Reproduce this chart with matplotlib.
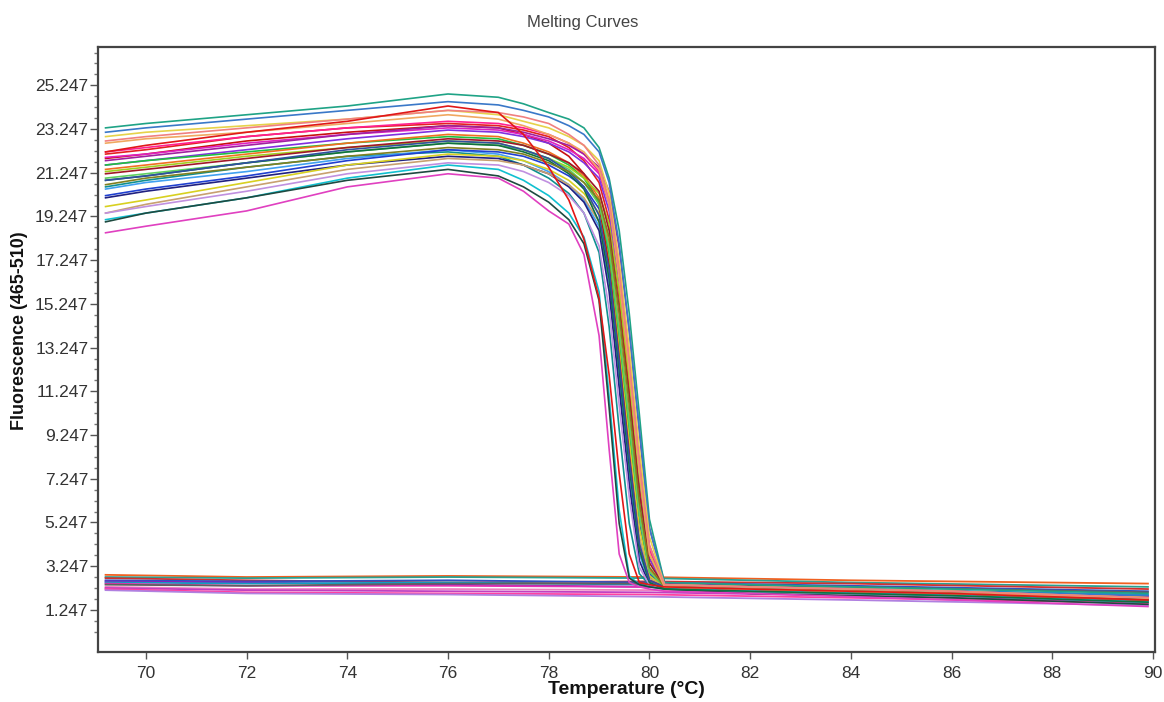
import matplotlib
matplotlib.use("Agg")
import matplotlib.pyplot as plt
from matplotlib.ticker import FixedLocator

plt.rcParams['font.family'] = ['Liberation Sans', 'DejaVu Sans']

# ---------------- data ----------------
title = "Melting Curves"
x_label = "Temperature (°C)"
y_label = "Fluorescence (465-510)"

x_ticks = [70, 72, 74, 76, 78, 80, 82, 84, 86, 88, 90]
y_ticks = [1.247, 3.247, 5.247, 7.247, 9.247, 11.247, 13.247, 15.247,
           17.247, 19.247, 21.247, 23.247, 25.247]
y_tick_labels = ["1.247", "3.247", "5.247", "7.247", "9.247", "11.247", "13.247",
                 "15.247", "17.247", "19.247", "21.247", "23.247", "25.247"]

# temperatures at which the melting (positive) curves were read
high_temps = [69.2, 70, 72, 74, 76, 77, 77.5, 78, 78.4, 78.7,
              79.0, 79.2, 79.4, 79.6, 79.8, 80.0, 80.3, 82, 86, 89.9]

# melting curves, upper group (high plateau, late melt)
high_upper = [
    [23.3, 23.5, 23.9, 24.3, 24.85, 24.7, 24.4, 24.0, 23.7, 23.3, 22.4, 21.0, 18.6, 14.8, 10.2, 5.4, 2.5, 2.4, 2.2, 2.0],
    [23.1, 23.3, 23.7, 24.1, 24.5, 24.35, 24.1, 23.8, 23.4, 23.0, 22.2, 20.8, 18.0, 14.0, 9.5, 5.0, 2.4, 2.3, 2.1, 1.9],
    [22.9, 23.1, 23.4, 23.7, 24.1, 23.9, 23.6, 23.3, 22.9, 22.5, 21.8, 20.3, 17.2, 13.2, 8.6, 4.6, 2.4, 2.3, 2.1, 1.8],
    [22.6, 22.8, 23.1, 23.5, 23.9, 23.7, 23.4, 23.0, 22.6, 22.2, 21.4, 19.8, 16.4, 12.2, 7.6, 3.8, 2.3, 2.2, 2.0, 1.8],
    [22.7, 22.9, 23.3, 23.7, 24.1, 24.0, 23.8, 23.5, 23.0, 22.5, 21.6, 20.0, 16.8, 12.6, 8.0, 4.2, 2.4, 2.3, 2.1, 1.8],
    [22.2, 22.5, 23.1, 23.6, 24.3, 24.0, 23.0, 21.5, 20.0, 18.2, 15.5, 12.0, 7.5, 3.8, 2.5, 2.4, 2.3, 2.2, 2.0, 1.7],
]
high_upper_colors = ["#1fa386", "#3a78c8", "#e6d24a", "#f0a860", "#f08080", "#e01818"]

# melting curves, middle group
high_middle = [
    [22.1, 22.3, 22.9, 23.3, 23.5, 23.4, 23.2, 22.9, 22.4, 21.8, 20.8, 19.1, 15.5, 11.4, 7.0, 3.6, 2.4, 2.3, 2.1, 1.8],
    [21.9, 22.1, 22.7, 23.1, 23.4, 23.3, 23.0, 22.6, 22.0, 21.2, 19.8, 17.0, 12.8, 8.4, 4.2, 2.6, 2.3, 2.2, 2.0, 1.7],
    [21.95, 22.1, 22.6, 23.0, 23.3, 23.2, 23.0, 22.7, 22.3, 21.9, 21.2, 19.8, 16.8, 12.8, 8.2, 4.2, 2.4, 2.3, 2.1, 1.8],
    [22.2, 22.4, 22.9, 23.3, 23.6, 23.5, 23.3, 23.0, 22.6, 22.1, 21.3, 19.9, 16.6, 12.4, 7.8, 4.0, 2.4, 2.3, 2.1, 1.8],
    [21.8, 22.0, 22.5, 23.0, 23.4, 23.3, 23.1, 22.8, 22.5, 22.1, 21.5, 20.4, 17.8, 14.0, 9.4, 5.0, 2.5, 2.3, 2.1, 1.8],
    [21.6, 21.8, 22.3, 22.8, 23.2, 23.1, 22.9, 22.6, 22.2, 21.7, 21.0, 19.5, 16.2, 12.0, 7.4, 3.6, 2.3, 2.2, 2.0, 1.7],
    [21.6, 21.8, 22.2, 22.6, 22.9, 22.8, 22.5, 22.1, 21.6, 21.0, 19.9, 17.6, 13.8, 9.6, 5.6, 3.0, 2.3, 2.2, 2.0, 1.8],
    [21.4, 21.6, 22.1, 22.6, 23.0, 22.9, 22.6, 22.2, 21.7, 21.1, 20.1, 18.0, 14.2, 10.0, 5.8, 3.1, 2.3, 2.2, 2.0, 1.7],
    [21.3, 21.5, 22.0, 22.4, 22.7, 22.6, 22.3, 21.9, 21.5, 21.0, 20.3, 18.9, 15.8, 11.8, 7.4, 3.8, 2.4, 2.3, 2.1, 1.8],
    [21.2, 21.4, 21.9, 22.4, 22.8, 22.7, 22.5, 22.1, 21.7, 21.2, 20.4, 18.6, 15.0, 11.0, 6.6, 3.4, 2.3, 2.2, 2.0, 1.7],
    [21.0, 21.2, 21.7, 22.2, 22.6, 22.5, 22.3, 21.9, 21.4, 20.8, 19.8, 17.8, 14.0, 9.8, 5.6, 3.0, 2.3, 2.2, 2.0, 1.7],
    [20.9, 21.1, 21.7, 22.2, 22.6, 22.5, 22.2, 21.8, 21.2, 20.5, 19.0, 16.4, 12.2, 7.8, 4.0, 2.5, 2.2, 2.1, 1.9, 1.6],
    [20.9, 21.1, 21.7, 22.3, 22.7, 22.6, 22.3, 21.9, 21.3, 20.6, 19.3, 16.8, 12.6, 8.2, 4.3, 2.6, 2.3, 2.2, 2.0, 1.7],
    [20.7, 21.0, 21.5, 22.0, 22.4, 22.3, 22.1, 21.7, 21.3, 20.8, 20.0, 18.3, 14.8, 10.6, 6.2, 3.2, 2.3, 2.2, 2.0, 1.7],
]
high_middle_colors = ["#e42020", "#c81010", "#e020c0", "#ff2090", "#a020a0", "#8030e0",
                      "#20c040", "#f07020", "#a0d020", "#a01828", "#60d060", "#107040",
                      "#3050a0", "#808020"]

# melting curves, lower group (low start, earlier melt)
high_lower = [
    [20.6, 20.9, 21.5, 22.0, 22.2, 22.0, 21.6, 21.0, 20.3, 19.4, 17.6, 14.2, 9.5, 5.2, 2.9, 2.4, 2.3, 2.2, 2.0, 1.7],
    [20.5, 20.8, 21.3, 21.9, 22.3, 22.1, 21.8, 21.3, 20.7, 20.0, 18.8, 16.2, 11.8, 7.4, 3.8, 2.5, 2.3, 2.2, 2.0, 1.7],
    [20.2, 20.5, 21.1, 21.8, 22.3, 22.2, 22.0, 21.6, 21.1, 20.6, 19.6, 17.5, 13.5, 9.3, 5.2, 2.9, 2.3, 2.2, 2.0, 1.8],
    [20.1, 20.4, 21.0, 21.6, 22.0, 21.9, 21.6, 21.2, 20.6, 19.9, 18.6, 15.8, 11.4, 7.0, 3.5, 2.4, 2.2, 2.1, 1.9, 1.6],
    [19.7, 20.0, 20.8, 21.6, 22.1, 22.0, 21.8, 21.4, 20.9, 20.3, 19.4, 17.3, 13.4, 9.1, 5.0, 2.8, 2.3, 2.2, 2.0, 1.7],
    [19.4, 19.8, 20.6, 21.4, 21.9, 21.8, 21.6, 21.2, 20.7, 20.1, 19.0, 16.6, 12.6, 8.4, 4.6, 2.7, 2.3, 2.2, 2.0, 1.7],
    [19.4, 19.7, 20.4, 21.2, 21.7, 21.6, 21.3, 20.8, 20.2, 19.4, 17.9, 15.0, 10.6, 6.4, 3.2, 2.4, 2.2, 2.1, 1.9, 1.6],
    [19.1, 19.4, 20.1, 21.0, 21.6, 21.4, 20.9, 20.2, 19.4, 18.3, 15.8, 11.0, 5.8, 2.8, 2.4, 2.3, 2.2, 2.1, 1.9, 1.6],
    [19.0, 19.4, 20.1, 20.9, 21.4, 21.1, 20.6, 19.9, 19.1, 18.0, 15.4, 10.5, 5.2, 2.7, 2.4, 2.3, 2.2, 2.0, 1.8, 1.5],
    [18.5, 18.8, 19.5, 20.6, 21.2, 21.0, 20.4, 19.5, 18.9, 17.5, 13.8, 8.6, 3.8, 2.5, 2.3, 2.2, 2.1, 2.0, 1.7, 1.4],
]
high_lower_colors = ["#109090", "#40a0f0", "#2040d0", "#202080", "#d8d020", "#c8a070",
                     "#c090e0", "#10c0d0", "#1f4a40", "#e040c0"]

# flat (negative) curves
low_temps = [69.2, 72, 76, 80, 84, 89.9]
low_flat = [
    [2.85, 2.75, 2.80, 2.75, 2.60, 2.45],
    [2.75, 2.70, 2.75, 2.70, 2.50, 2.30],
    [2.70, 2.60, 2.50, 2.55, 2.45, 2.20],
    [2.60, 2.55, 2.60, 2.50, 2.35, 2.10],
    [2.55, 2.50, 2.40, 2.30, 2.15, 1.90],
    [2.50, 2.45, 2.50, 2.40, 2.20, 1.95],
    [2.45, 2.35, 2.35, 2.30, 2.10, 1.85],
    [2.40, 2.35, 2.45, 2.45, 2.30, 2.05],
    [2.30, 2.20, 2.20, 2.15, 2.00, 1.70],
    [2.25, 2.15, 2.10, 2.05, 1.90, 1.60],
    [2.20, 2.05, 2.00, 1.95, 1.80, 1.55],
    [2.15, 2.00, 1.95, 1.85, 1.70, 1.45],
]
low_flat_colors = ["#f06020", "#2aa090", "#d03030", "#3050c0", "#8020c0", "#10a0c0",
                   "#e030b0", "#606060", "#f080c0", "#c040c0", "#ff40a0", "#b080e0"]

# ---------------- figure ----------------
W, H = 1164, 702
fig = plt.figure(figsize=(W / 100, H / 100), dpi=100)
ax = fig.add_axes([98 / W, 1 - 652 / H, (1155 - 98) / W, (652 - 47) / H])

for vals, col in zip(low_flat, low_flat_colors):
    ax.plot(low_temps, vals, color=col, lw=1.3)
for vals, col in zip(high_lower, high_lower_colors):
    ax.plot(high_temps, vals, color=col, lw=1.2)
for vals, col in zip(high_middle, high_middle_colors):
    ax.plot(high_temps, vals, color=col, lw=1.2)
for vals, col in zip(high_upper, high_upper_colors):
    ax.plot(high_temps, vals, color=col, lw=1.2)

ax.set_xlim(69.05, 90.04)
ax.set_ylim(-0.68, 27.0)

ax.xaxis.set_major_locator(FixedLocator(x_ticks))
ax.set_xticklabels([str(t) for t in x_ticks])
ax.yaxis.set_major_locator(FixedLocator(y_ticks))
ax.set_yticklabels(y_tick_labels)
ax.yaxis.set_minor_locator(FixedLocator([1.247 + 0.5 * k for k in range(-2, 52) if k % 4 != 0]))

ax.tick_params(axis='both', which='major', labelsize=12.5, colors='#555555',
               labelcolor='#333333', direction='out')
ax.tick_params(axis='y', which='major', length=6, width=1, pad=1)
ax.tick_params(axis='y', which='minor', length=3, width=1, color='#777777')
ax.tick_params(axis='x', which='major', length=5, width=1, pad=5)

for sp in ax.spines.values():
    sp.set_color('#444444')
    sp.set_linewidth(1.6)

fig.text(583 / W, 1 - 23 / H, title, ha='center', va='center', fontsize=12, color='#444444')
fig.text(626 / W, 1 - 690 / H, x_label, ha='center', va='center', fontsize=14,
         fontweight='bold', color='#111111')
fig.text(20 / W, 1 - 331 / H, y_label, ha='center', va='center', rotation=90,
         fontsize=12.9, fontweight='bold', color='#111111')

fig.savefig("out.png", dpi=100)
